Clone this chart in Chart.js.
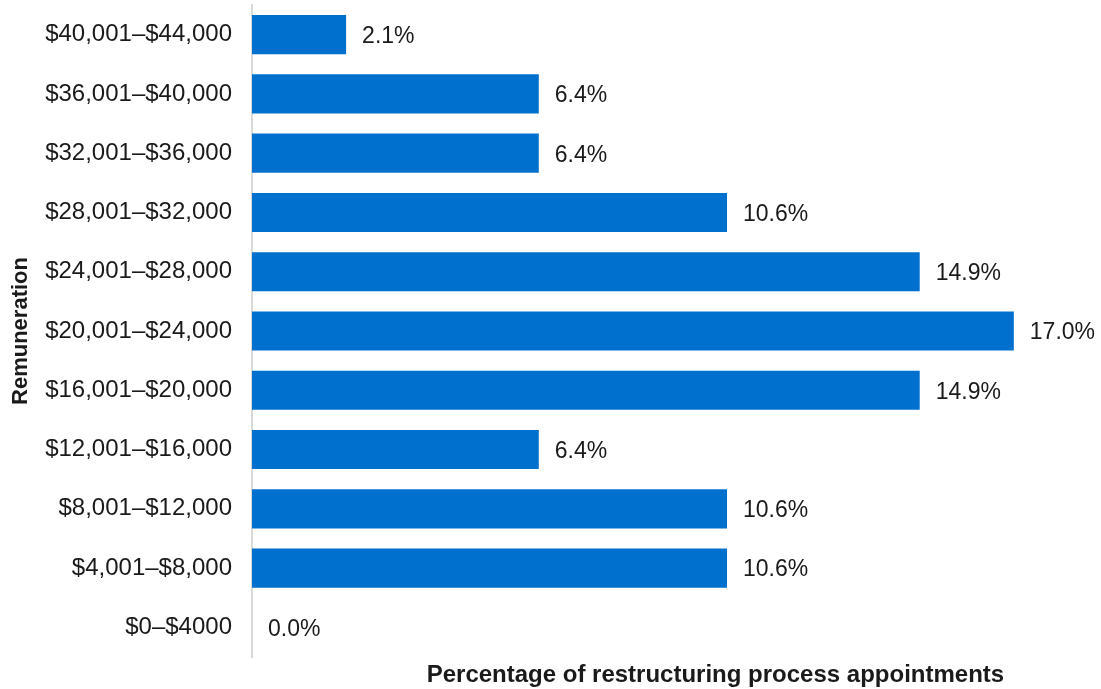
<!DOCTYPE html>
<html>
<head>
<meta charset="utf-8">
<script src="https://cdn.jsdelivr.net/npm/chart.js@4"></script>
<style>
  html, body { margin: 0; padding: 0; background: #ffffff; }
  #wrap { width: 1101px; height: 689px; position: relative; }
</style>
</head>
<body>
<div id="wrap"><canvas id="chartRemuneration"></canvas></div>
<script>
// Remuneration bands, top of chart first
const bands = [
    '$40,001–$44,000',
    '$36,001–$40,000',
    '$32,001–$36,000',
    '$28,001–$32,000',
    '$24,001–$28,000',
    '$20,001–$24,000',
    '$16,001–$20,000',
    '$12,001–$16,000',
    '$8,001–$12,000',
    '$4,001–$8,000',
    '$0–$4000'
];
const shares = [2.1, 6.4, 6.4, 10.6, 14.9, 17.0, 14.9, 6.4, 10.6, 10.6, 0.0];

const xTitle = 'Percentage of restructuring process appointments';
const yTitle = 'Remuneration';

const fontFamily = '"Liberation Sans", Arial, Helvetica, sans-serif';
const textColor = '#1a1a1a';

// value labels at the end of each bar, plus the x axis title
const barLabels = {
    id: 'barLabels',
    afterDatasetsDraw(chart) {
        const ctx = chart.ctx;
        const meta = chart.getDatasetMeta(0);
        ctx.save();
        ctx.font = '23px ' + fontFamily;
        ctx.fillStyle = textColor;
        ctx.textAlign = 'left';
        ctx.textBaseline = 'middle';
        meta.data.forEach((bar, i) => {
            ctx.fillText(shares[i].toFixed(1) + '%', bar.x + 16, bar.y + 2);
        });

        const area = chart.chartArea;
        ctx.font = 'bold 24px ' + fontFamily;
        ctx.textAlign = 'center';
        ctx.fillText(xTitle, area.left + (area.right - area.left) * 0.553, 675);
        ctx.restore();
    }
};

new Chart(document.getElementById('chartRemuneration'), {
    type: 'bar',
    data: {
        labels: bands,
        datasets: [{
            data: shares,
            backgroundColor: '#0070ce',
            borderWidth: 0,
            barPercentage: 0.66,
            categoryPercentage: 1.0
        }]
    },
    options: {
        indexAxis: 'y',
        responsive: true,
        maintainAspectRatio: false,
        animation: false,
        layout: { padding: { top: 5, right: 11, bottom: 32, left: 8 } },
        plugins: {
            legend: { display: false },
            tooltip: { enabled: false }
        },
        scales: {
            x: {
                min: 0,
                max: 18.7,
                display: false,
                grid: { display: false }
            },
            y: {
                afterFit(scale) {
                    // fixed axis width, and no extra room above/below for the tick labels
                    scale.width = 244;
                    scale.paddingTop = 0;
                    scale.paddingBottom = 0;
                },
                grid: { display: false, drawTicks: false },
                border: { display: true, color: '#d9d9d9', width: 2 },
                ticks: {
                    color: textColor,
                    padding: 20,
                    font: { family: fontFamily, size: 24 }
                },
                title: {
                    display: true,
                    text: yTitle,
                    color: textColor,
                    padding: { top: 0, bottom: 0 },
                    font: { family: fontFamily, size: 22, weight: 'bold' }
                }
            }
        }
    },
    plugins: [barLabels]
});
</script>
</body>
</html>
